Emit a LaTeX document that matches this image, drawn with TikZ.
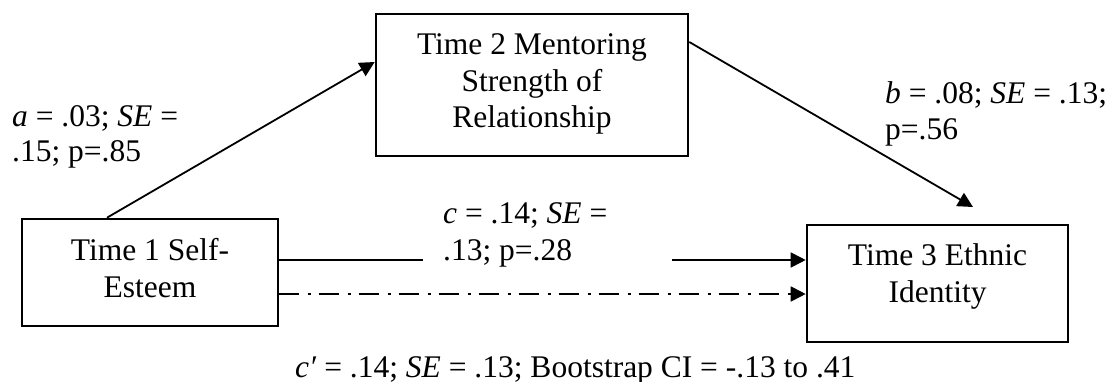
\documentclass[tikz,border=0pt]{standalone}
\usepackage{fontspec}
\setmainfont{Liberation Serif}
\usetikzlibrary{arrows.meta}
\begin{document}
\begin{tikzpicture}[x=1pt,y=-1pt,
  box/.style={draw, line width=2.6pt, rectangle, inner sep=0pt},
  txt/.style={inner sep=0pt, font=\fontsize{31.5}{36}\selectfont},
  conn/.style={line width=1.8pt},
  arr/.style={-{Triangle[length=15pt,width=15pt]}},
  dashdot/.style={dash pattern=on 20pt off 8.5pt on 3pt off 8.5pt}]
\useasboundingbox (0,0) rectangle (1113,382);
% boxes
\node[box, minimum width=256pt, minimum height=107pt] (se) at (150,272.5) {};
\node[box, minimum width=312pt, minimum height=142pt] (mt) at (532,85) {};
\node[box, minimum width=261pt, minimum height=117pt] (ei) at (937.5,283.5) {};
% box texts
\node[txt, anchor=base] (se1) at (150,260) {Time 1 Self-};
\node[txt, anchor=base] (se2) at (150,297) {Esteem};
\node[txt, anchor=base] (mt1) at (532,55) {Time 2 Mentoring};
\node[txt, anchor=base] (mt2) at (532,92) {Strength of};
\node[txt, anchor=base] (mt3) at (532,128) {Relationship};
\node[txt, anchor=base] (ei1) at (937.5,265) {Time 3 Ethnic};
\node[txt, anchor=base] (ei2) at (937.5,302) {Identity};
% connectors
\draw[conn, arr] ([xshift=-43pt]se.north) -- ([yshift=23pt]mt.west);
\coordinate (bEnd) at (973,207);
\draw[conn, arr] ([yshift=43pt]mt.east) -- (bEnd);
\coordinate (cA) at ([yshift=12.5pt]se.east);
\coordinate (cGapA) at (423,260);
\coordinate (cGapB) at (672,260);
\draw[conn] (cA) -- (cGapA);
\draw[conn, arr] (cGapB) -- (cA -| ei.west);
\coordinate (dA) at ([yshift=-21.5pt]se.east);
\draw[conn, dashdot, arr] (dA) -- (dA -| ei.west);
% labels
\node[txt, anchor=base west] (la1) at (12,127) {\textit{a} = .03; \textit{SE} =};
\node[txt, anchor=base west] (la2) at (12,162) {.15; p=.85};
\node[txt, anchor=base west] (lc1) at (443,223) {\textit{c} = .14; \textit{SE} =};
\node[txt, anchor=base west] (lc2) at (443,260) {.13; p=.28};
\node[txt, anchor=base west] (lb1) at (885,104) {\textit{b} = .08; \textit{SE} = .13;};
\node[txt, anchor=base west] (lb2) at (885,140) {p=.56};
\node[txt, anchor=base west] (ld) at (295,377) {\textit{c′} = .14; \textit{SE} = .13; Bootstrap CI = -.13 to .41};
\end{tikzpicture}
\end{document}
